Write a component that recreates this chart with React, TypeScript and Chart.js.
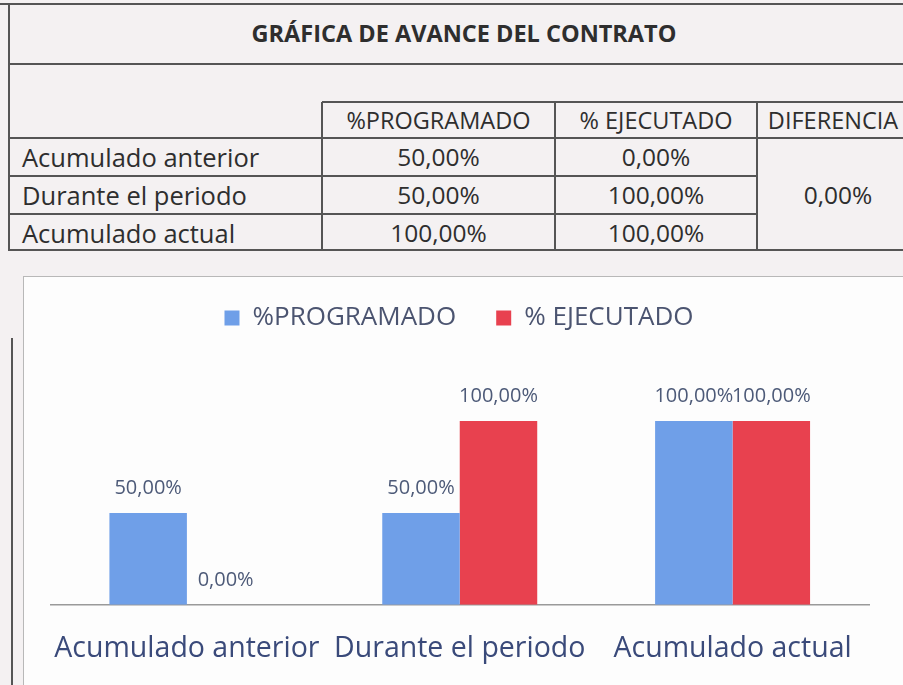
import React, { useEffect, useRef } from "react";
import { Chart, registerables } from "chart.js";

Chart.register(...registerables);

const categories = ["Acumulado anterior", "Durante el periodo", "Acumulado actual"];
const programado = [50, 50, 100];
const ejecutado = [0, 100, 100];
const diferencia = "0,00%";
const seriesNames = ["%PROGRAMADO", "% EJECUTADO"];
const title = "GRÁFICA DE AVANCE DEL CONTRATO";

const fmt = (v: number) => v.toFixed(2).replace(".", ",") + "%";

const FONT = "'Open Sans', 'Noto Sans', sans-serif";
const BLUE = "#6f9fe8";
const RED = "#e8414f";

const dataLabels = {
  id: "dataLabels",
  afterDatasetsDraw(chart: any) {
    const ctx = chart.ctx;
    ctx.save();
    ctx.font = `20px ${FONT}`;
    ctx.fillStyle = "#4d5a78";
    ctx.textAlign = "center";
    ctx.textBaseline = "middle";
    chart.data.datasets.forEach((ds: any, di: number) => {
      const meta = chart.getDatasetMeta(di);
      meta.data.forEach((el: any, i: number) => {
        ctx.fillText(fmt(ds.data[i]), el.x, el.y - 25);
      });
    });
    ctx.restore();
  },
};

function ChartBox() {
  const ref = useRef<HTMLCanvasElement>(null);
  useEffect(() => {
    const chart = new Chart(ref.current!, {
      type: "bar",
      data: {
        labels: categories,
        datasets: [
          { label: seriesNames[0], data: programado, backgroundColor: BLUE },
          { label: seriesNames[1], data: ejecutado, backgroundColor: RED },
        ],
      },
      options: {
        responsive: false,
        animation: false,
        maintainAspectRatio: false,
        layout: { padding: { left: 26, right: 34, top: 0, bottom: 20 } },
        datasets: { bar: { categoryPercentage: 0.568, barPercentage: 1 } },
        plugins: {
          legend: {
            position: "top",
            labels: {
              boxWidth: 15,
              boxHeight: 15,
              padding: 40,
              color: "#4b5470",
              font: { family: FONT, size: 26 },
            },
          },
          tooltip: { enabled: false },
        },
        scales: {
          x: {
            grid: { display: false, drawTicks: false },
            border: { display: true, color: "#9a9a9a", width: 1.5 },
            ticks: {
              color: "#3a4a7a",
              padding: 27,
              maxRotation: 0,
              minRotation: 0,
              autoSkip: false,
              font: { family: FONT, size: 28.5 },
            },
          },
          y: { display: false, min: 0, max: 143.5 },
        },
      },
      plugins: [dataLabels],
    });
    return () => chart.destroy();
  }, []);
  return (
    <canvas
      ref={ref}
      width={880}
      height={448}
      style={{ position: "absolute", left: 23, top: 265, width: 880, height: 448 }}
    />
  );
}

const LINE = "#555";

function HLine({ y, x1, x2 }: { y: number; x1: number; x2: number }) {
  return <div style={{ position: "absolute", left: x1, top: y - 1, width: x2 - x1, height: 2, background: LINE }} />;
}
function VLine({ x, y1, y2 }: { x: number; y1: number; y2: number }) {
  return <div style={{ position: "absolute", left: x - 1, top: y1, width: 2, height: y2 - y1, background: LINE }} />;
}
function Txt({ x, y, w, text, align = "center", bold = false, size = 24 }: any) {
  return (
    <div
      style={{
        position: "absolute",
        left: x,
        top: y - 18,
        width: w,
        height: 36,
        lineHeight: "36px",
        textAlign: align,
        fontWeight: bold ? 700 : 400,
        fontSize: size,
        color: "#2e2e2e",
        whiteSpace: "nowrap",
      }}
    >
      {text}
    </div>
  );
}

export default function App() {
  const rowY = [157, 195, 233];
  return (
    <div
      style={{
        position: "absolute",
        left: 0,
        top: 0,
        width: 903,
        height: 685,
        overflow: "hidden",
        background: "#f4f1f2",
        fontFamily: FONT,
      }}
    >
      <HLine y={4} x1={0} x2={903} />
      <HLine y={64} x1={9} x2={903} />
      <HLine y={102} x1={322} x2={903} />
      <HLine y={138} x1={9} x2={903} />
      <HLine y={176} x1={9} x2={757} />
      <HLine y={214} x1={9} x2={757} />
      <HLine y={250} x1={9} x2={903} />
      <VLine x={9} y1={4} y2={251} />
      <VLine x={322} y1={102} y2={251} />
      <VLine x={555} y1={102} y2={251} />
      <VLine x={757} y1={102} y2={251} />

      <Txt x={9} y={33} w={910} text={title} bold size={23.5} />
      <Txt x={322} y={120} w={233} text={seriesNames[0]} size={23.5} />
      <Txt x={555} y={120} w={202} text={seriesNames[1]} size={23.5} />
      <Txt x={757} y={120} w={152} text="DIFERENCIA" size={23.5} />
      {categories.map((c, i) => (
        <React.Fragment key={c}>
          <Txt x={22} y={rowY[i]} w={300} text={c} align="left" size={25.5} />
          <Txt x={322} y={rowY[i]} w={233} text={fmt(programado[i])} size={24.5} />
          <Txt x={555} y={rowY[i]} w={202} text={fmt(ejecutado[i])} size={24.5} />
        </React.Fragment>
      ))}
      <Txt x={757} y={195} w={162} text={diferencia} size={24.5} />

      <div
        style={{
          position: "absolute",
          left: 23,
          top: 276,
          width: 900,
          height: 420,
          border: "1.5px solid #b8b8b8",
          background: "#fdfdfd",
        }}
      />
      <div style={{ position: "absolute", left: 11, top: 338, width: 2, height: 360, background: "#555" }} />
      <ChartBox />
    </div>
  );
}
